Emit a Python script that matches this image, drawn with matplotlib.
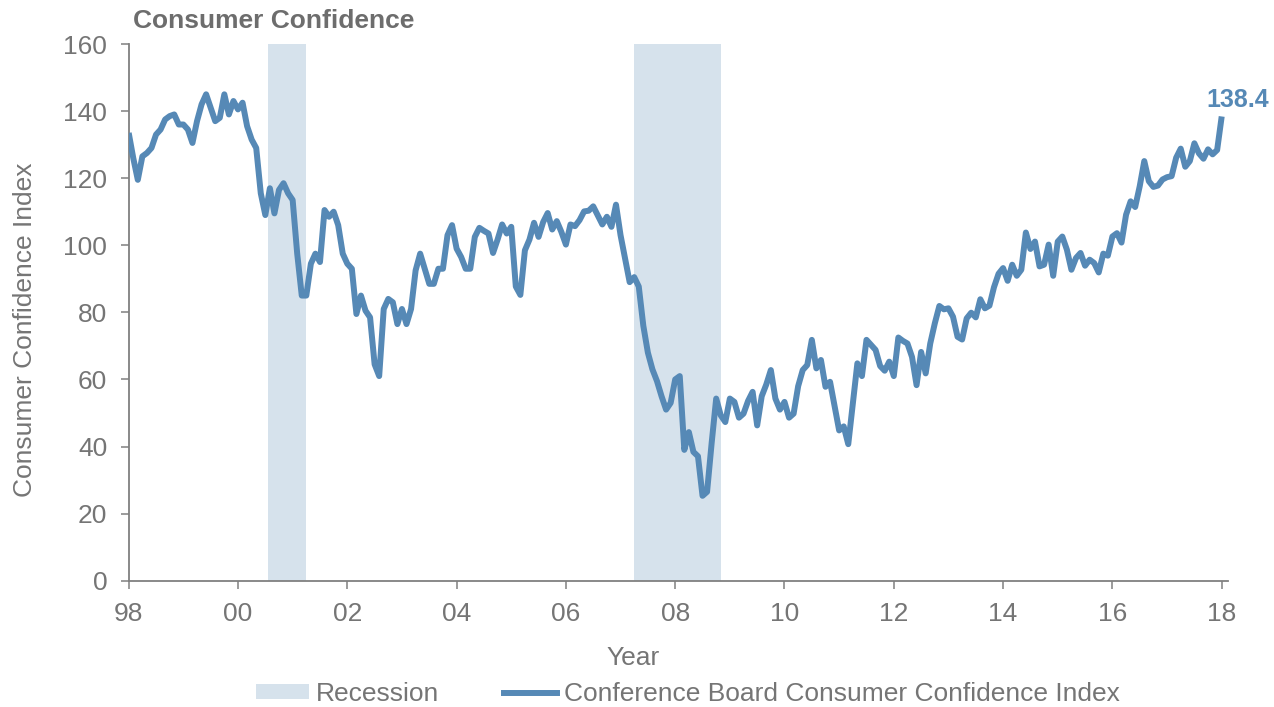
import numpy as np
import matplotlib
matplotlib.use("Agg")
import matplotlib.pyplot as plt
from matplotlib.patches import Patch
from matplotlib.lines import Line2D

plt.rcParams['font.family'] = ['Liberation Sans', 'DejaVu Sans']

# ---- data (monthly, first point at start of 1998) ----
start_year = 1998
cci_values = [
    133.5, 126, 119.5, 126.5, 127.5, 129, 133, 134.5, 137.5, 138.5,
    139, 136, 136, 134.5, 130.5, 137, 142, 145, 141, 137,
    138, 145, 139, 143, 140.5, 142.5, 135.5, 131.5, 129, 115.5,
    109, 117, 109.5, 116.5, 118.5, 115.5, 113.5, 97.5, 85, 85,
    94.5, 97.5, 95, 110.5, 108.5, 110, 106, 97.5, 94.5, 93,
    79.5, 85, 80.5, 78.5, 64.5, 61, 81, 84, 83, 76.5,
    81, 76.5, 81, 92.5, 97.5, 93, 88.5, 88.5, 93, 93,
    103, 106, 99, 96.5, 93, 93, 102.5, 105.2, 104.3, 103.5,
    97.7, 101.7, 106.2, 103.5, 105.5, 87.7, 85.2, 98.5, 101.7, 106.7,
    102.5, 106.9, 109.6, 104.7, 107.2, 104, 100.2, 106.2, 105.7, 107.5,
    110.1, 110.3, 111.6, 108.9, 106.2, 108.5, 105.5, 112.1, 103, 96,
    89, 90.5, 87.7, 76, 68, 63, 59.5, 55, 51, 53,
    60, 61, 39, 44.3, 38.4, 37.1, 25.3, 26.5, 41, 54.3,
    49.3, 47.3, 54.3, 53.3, 48.6, 49.8, 53.6, 56.3, 46.3, 55,
    58.5, 62.8, 54.3, 51, 53.3, 48.6, 49.8, 58, 62.8, 64.3,
    71.8, 63.3, 65.8, 57.8, 59.3, 52, 44.8, 46, 40.7, 52.8,
    64.8, 61, 71.8, 70.3, 68.8, 64, 62.6, 65.3, 61, 72.5,
    71.5, 70.7, 66.7, 58.3, 68.2, 61.8, 70.7, 76.7, 81.9, 80.9,
    81.2, 78.7, 72.7, 71.9, 78.2, 79.9, 78.5, 83.9, 81.2, 82,
    87.5, 91.5, 93.2, 89.4, 94.2, 90.9, 92.7, 103.8, 98.9, 101.1,
    93.7, 94.2, 100.2, 90.9, 101.1, 102.6, 98.7, 92.7, 96.2, 97.7,
    93.9, 95.7, 94.7, 91.9, 97.5, 96.9, 102.6, 103.6, 100.8, 109.1,
    113.1, 111.4, 117.6, 125.1, 119.1, 117.4, 117.8, 119.6, 120.3, 120.6,
    126.1, 128.8, 123.4, 125.1, 130.4, 127.4, 125.8, 128.6, 127.1, 128.4,
    138.4,
]
recession_start = [2000.54, 2007.25]
recession_end = [2001.25, 2008.83]
tick_years = [1998, 2000, 2002, 2004, 2006, 2008, 2010, 2012, 2014, 2016, 2018]
tick_labels = ['98', '00', '02', '04', '06', '08', '10', '12', '14', '16', '18']
y_ticks = [0, 20, 40, 60, 80, 100, 120, 140, 160]
last_label = '138.4'

series_name = 'Conference Board Consumer Confidence Index'
recession_name = 'Recession'

# ---- style ----
LINE = '#5689b6'
SHADE = '#d6e2ec'
GRAY = '#757575'
SPINE = '#808080'
FS = 19

W, H = 1274, 707
fig = plt.figure(figsize=(W / 100, H / 100), dpi=100)
left_px, right_px, top_px, bot_px = 128.7, 1228, 44, 580.7
ax = fig.add_axes([left_px / W, 1 - bot_px / H, (right_px - left_px) / W, (bot_px - top_px) / H])

x = start_year + np.arange(len(cci_values)) / 12.0

for s, e in zip(recession_start, recession_end):
    ax.axvspan(s, e, color=SHADE, lw=0, zorder=0)
ax.plot(x, cci_values, color=LINE, lw=4.3, solid_joinstyle='round', solid_capstyle='butt', zorder=3)

px_per_year = 54.65
ax.set_xlim(1998, 1998 + (right_px - left_px) / px_per_year)
ax.set_ylim(0, 160)
ax.set_xticks(tick_years)
ax.set_xticklabels(tick_labels)
ax.set_yticks(y_ticks)

for side in ['top', 'right']:
    ax.spines[side].set_visible(False)
for side in ['left', 'bottom']:
    ax.spines[side].set_color(SPINE)
    ax.spines[side].set_linewidth(1.3)
ax.tick_params(axis='both', direction='out', length=5.5, width=1.1, color=SPINE,
               labelsize=FS, labelcolor=GRAY, pad=10)

ax.annotate(last_label, xy=(x[-1], cci_values[-1]), xytext=(-15, 9.5),
            textcoords='offset pixels', ha='left', va='baseline',
            fontsize=18, fontweight='bold', color=LINE)

ax.set_ylabel('Consumer Confidence Index', fontsize=FS, color=GRAY, va='center', ha='center')
ax.yaxis.set_label_coords((25 - left_px) / (right_px - left_px), (bot_px - 330) / (bot_px - top_px))
ax.set_xlabel('Year', fontsize=FS, color=GRAY, va='center', ha='center')
ax.xaxis.set_label_coords((633 - left_px) / (right_px - left_px), (bot_px - 658) / (bot_px - top_px))

fig.text(133 / W, 1 - 21 / H, 'Consumer Confidence', fontsize=19, fontweight='bold',
         color='#6d6d6d', ha='left', va='center')

handles = [Patch(facecolor=SHADE, edgecolor='none'),
           Line2D([0], [0], color=LINE, lw=4.3)]
fig.legend(handles, [recession_name, series_name], loc='center',
           bbox_to_anchor=(688 / W, 1 - 694 / H), ncol=2, frameon=False,
           fontsize=FS, labelcolor=GRAY, handlelength=2.0, handleheight=0.5,
           handletextpad=0.27, columnspacing=2.46)

fig.savefig('out.png', dpi=100)
